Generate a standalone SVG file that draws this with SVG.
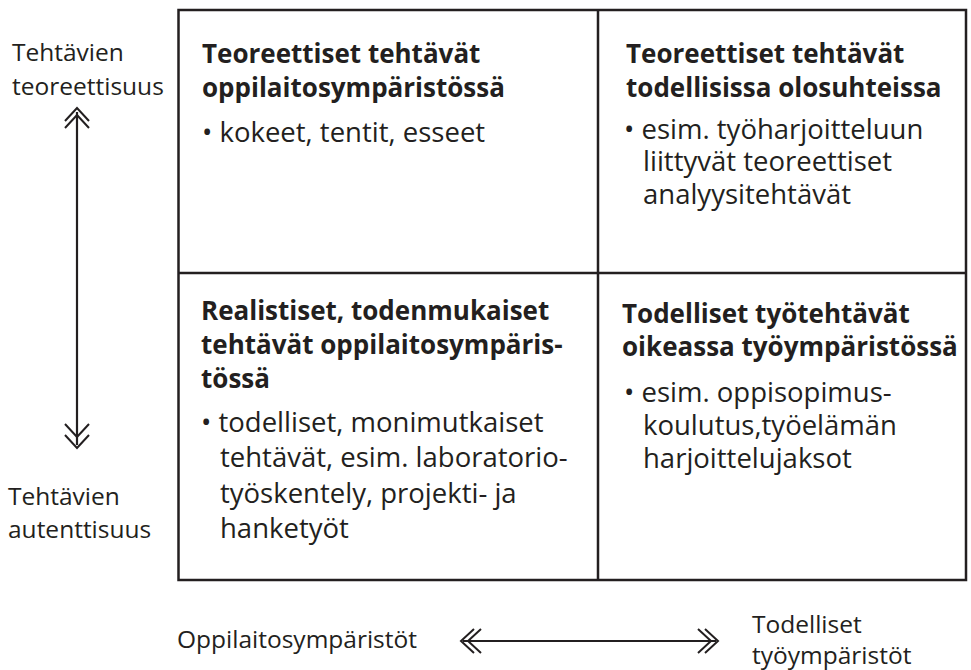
<svg xmlns="http://www.w3.org/2000/svg" width="971" height="670" viewBox="0 0 971 670">
  <style>
    .frame { fill: none; stroke: #231f20; stroke-width: 2.5; }
    .axis { fill: none; stroke: #231f20; stroke-width: 2.2; }
    .head { fill: none; stroke: #231f20; stroke-width: 2; stroke-linecap: butt; stroke-linejoin: miter; }
    text { font-family: "Open Sans", "Noto Sans", "DejaVu Sans", sans-serif; fill: #231f20; }
    .title { font-size: 26px; font-weight: 700; }
    .body { font-size: 27.5px; }
    .label { font-size: 24.5px; }
  </style>
  <rect width="971" height="670" fill="#ffffff"/>

  <!-- 2x2 grid -->
  <g id="grid">
    <rect class="frame" x="178.5" y="10" width="787.5" height="570"/>
    <line class="frame" x1="598" y1="10" x2="598" y2="580"/>
    <line class="frame" x1="178.5" y1="273" x2="966" y2="273"/>
  </g>

  <g id="q-theory-school">
    <text class="title" x="202" y="63">Teoreettiset tehtävät</text>
    <text class="title" x="202" y="97">oppilaitosympäristössä</text>
    <text class="body" x="202" y="142">• kokeet, tentit, esseet</text>
  </g>

  <g id="q-theory-real">
    <text class="title" x="626" y="63">Teoreettiset tehtävät</text>
    <text class="title" x="626" y="97">todellisissa olosuhteissa</text>
    <text class="body" x="624" y="139">• esim. työharjoitteluun</text>
    <text class="body" x="643" y="171">liittyvät teoreettiset</text>
    <text class="body" x="643" y="204">analyysitehtävät</text>
  </g>

  <g id="q-realistic-school">
    <text class="title" x="201" y="320">Realistiset, todenmukaiset</text>
    <text class="title" x="201" y="354">tehtävät oppilaitosympäris-</text>
    <text class="title" x="201" y="388">tössä</text>
    <text class="body" x="201" y="432">• todelliset, monimutkaiset</text>
    <text class="body" x="220" y="467">tehtävät, esim. laboratorio-</text>
    <text class="body" x="220" y="503">työskentely, projekti- ja</text>
    <text class="body" x="220" y="538">hanketyöt</text>
  </g>

  <g id="q-real-work">
    <text class="title" x="622" y="323">Todelliset työtehtävät</text>
    <text class="title" x="622" y="356">oikeassa työympäristössä</text>
    <text class="body" x="624" y="402">• esim. oppisopimus-</text>
    <text class="body" x="643" y="435">koulutus,työelämän</text>
    <text class="body" x="643" y="468">harjoittelujaksot</text>
  </g>

  <g id="axis-labels">
    <text class="label" x="12" y="61">Tehtävien</text>
    <text class="label" x="12" y="95">teoreettisuus</text>
    <text class="label" x="8" y="505">Tehtävien</text>
    <text class="label" x="8" y="538">autenttisuus</text>
    <text class="label" x="177" y="648">Oppilaitosympäristöt</text>
    <text class="label" x="752" y="633">Todelliset</text>
    <text class="label" x="752" y="664">työympäristöt</text>
  </g>

  <!-- double-headed axis arrows -->
  <g id="connectors">
    <line class="axis" x1="77" y1="112" x2="77" y2="445"/>
    <path class="head" d="M65,121 L77,108 L89,121 M65,128 L77,115 L89,128"/>
    <path class="head" d="M65,424 L77,437 L89,424 M65,435 L77,448 L89,435"/>
    <line class="axis" x1="463" y1="641" x2="716" y2="641"/>
    <path class="head" d="M481,629 L468,641 L481,653 M474,629 L461,641 L474,653"/>
    <path class="head" d="M698,629 L711,641 L698,653 M705,629 L718,641 L705,653"/>
  </g>
</svg>
